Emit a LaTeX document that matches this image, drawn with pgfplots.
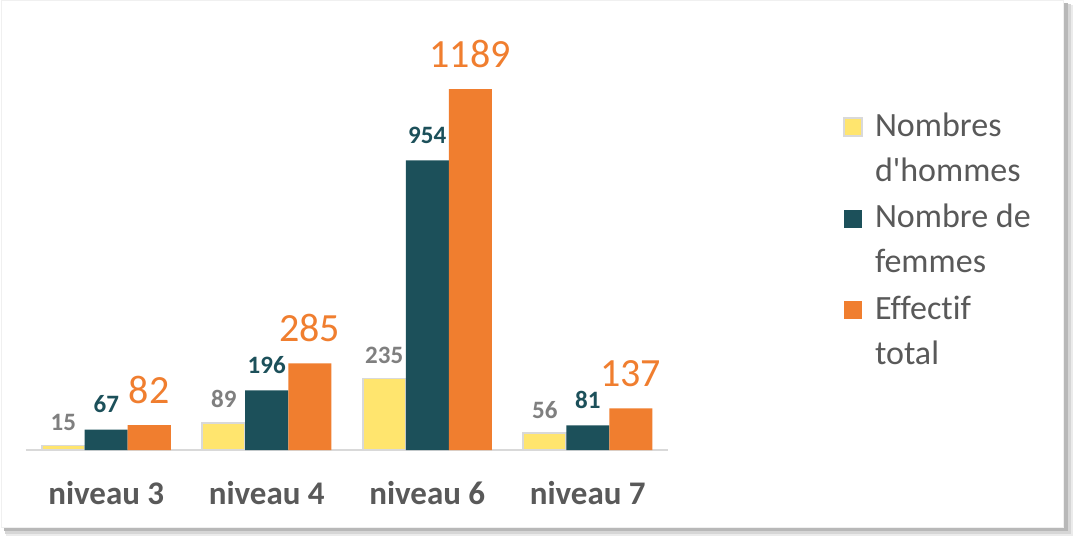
\documentclass[border=0pt]{standalone}
\usepackage{pgfplots}
\pgfplotsset{compat=1.18}
\usepackage{fontspec}
\setmainfont{Carlito}[Ligatures={NoCommon}]
\definecolor{cyel}{HTML}{FFE56E}
\definecolor{cteal}{HTML}{1C505A}
\definecolor{corange}{HTML}{F07E2F}
\definecolor{ctxt}{HTML}{595959}
\definecolor{clab}{HTML}{7F7F7F}
\pgfplotsset{
  sqleg/.style={legend image code/.code={\fill[##1] (0pt,22.5pt) rectangle (9pt,31.5pt);}},
  sqlegb/.style={legend image code/.code={\filldraw[##1] (0pt,22.5pt) rectangle (9pt,31.5pt);}},
}
\begin{document}
\begin{tikzpicture}[x=1pt,y=1pt]
\useasboundingbox (0,0) rectangle (537.5,268.5);
% shadow
\fill[black!8] (3,0.5) rectangle (536.5,266);
\fill[black!16] (2.5,1.5) rectangle (535.5,266.5);
\fill[black!28] (2,3) rectangle (534,267);
\fill[white,draw=black!6,line width=0.4pt] (0.5,5) rectangle (531.5,268.3);
\begin{axis}[
  at={(13pt,43.5pt)}, anchor=south west,
  scale only axis, width=321pt, height=180.5pt,
  xmin=-0.5, xmax=3.5, ymin=0, ymax=1189,
  clip=false,
  axis x line*=bottom, axis y line=none,
  x axis line style={draw=black!15, line width=1pt, -},
  xtick=data, xticklabels={niveau 3, niveau 4, niveau 6, niveau 7},
  major tick length=0pt,
  xticklabel style={font=\fontsize{16.5}{19}\selectfont\bfseries, text=ctxt, anchor=base, yshift=-27pt, inner sep=0pt},
  ybar=0pt, bar width=21.5pt,
  nodes near coords,
  /pgf/number format/assume math mode=true,
  /pgf/number format/1000 sep={},
  legend style={draw=none, fill=none, inner sep=0pt, at={(axis description cs:1.2726,0.936)}, anchor=north west,
    nodes={inner sep=0pt, align=left, font=\fontsize{17}{22.5}\selectfont, text=ctxt, anchor=base west},
    row sep=10pt, column sep=6pt},
  legend cell align=left,
]
\addplot[fill=cyel, draw=black!15, line width=0.8pt, sqlegb,
  nodes near coords style={font=\fontsize{12.5}{14}\selectfont\bfseries, text=clab, anchor=base, yshift=7.5pt}]
  coordinates {(0,15) (1,89) (2,235) (3,56)};
\addplot[fill=cteal, draw=none, sqleg,
  nodes near coords style={font=\fontsize{12.5}{14}\selectfont\bfseries, text=cteal, anchor=base, yshift=8.5pt}]
  coordinates {(0,67) (1,196) (2,954) (3,81)};
\addplot[fill=corange, draw=none, sqleg,
  nodes near coords style={font=\fontsize{20}{22}\selectfont, text=corange, anchor=base, yshift=11pt}]
  coordinates {(0,82) (1,285) (2,1189) (3,137)};
\legend{Nombres\\d\textquotesingle hommes, Nombre de\\femmes, Effectif\\total}
\end{axis}
\end{tikzpicture}
\end{document}
